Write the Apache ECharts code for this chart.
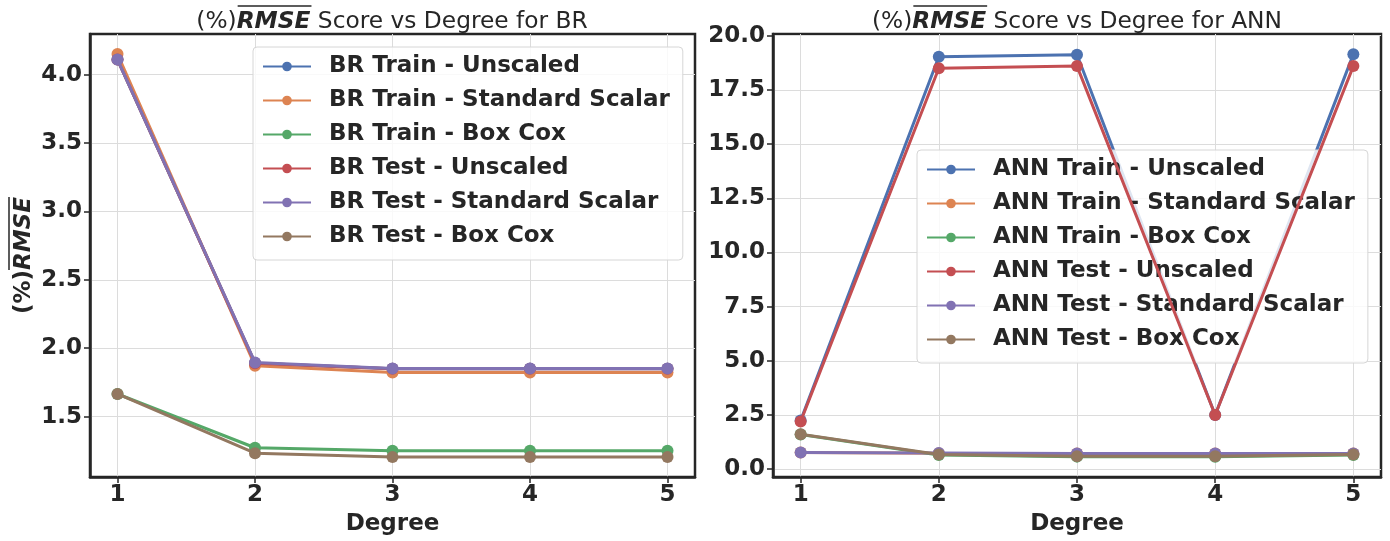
<!DOCTYPE html>
<html>
<head>
<meta charset="utf-8">
<script src="https://cdn.jsdelivr.net/npm/echarts@6/dist/echarts.min.js"></script>
<style>html,body{margin:0;padding:0;background:#fff;}#c{width:1390px;height:541px;}</style>
</head>
<body>
<div id="c"></div>
<script>
const degrees = [1, 2, 3, 4, 5];
const leftYTicks = [1.5, 2.0, 2.5, 3.0, 3.5, 4.0];
const rightYTicks = [0, 2.5, 5, 7.5, 10, 12.5, 15, 17.5, 20];

const brNames = ['BR Train - Unscaled','BR Train - Standard Scalar','BR Train - Box Cox','BR Test - Unscaled','BR Test - Standard Scalar','BR Test - Box Cox'];
const brTrainUnscaled = [4.11, 1.89, 1.85, 1.85, 1.85];
const brTrainStandard = [4.15, 1.872, 1.822, 1.822, 1.822];
const brTrainBoxCox = [1.665, 1.272, 1.25, 1.25, 1.25];
const brTestUnscaled = [4.11, 1.89, 1.85, 1.85, 1.85];
const brTestStandard = [4.11, 1.896, 1.852, 1.852, 1.852];
const brTestBoxCox = [1.665, 1.232, 1.205, 1.205, 1.205];

const annNames = ['ANN Train - Unscaled','ANN Train - Standard Scalar','ANN Train - Box Cox','ANN Test - Unscaled','ANN Test - Standard Scalar','ANN Test - Box Cox'];
const annTrainUnscaled = [2.25, 19.03, 19.12, 2.5, 19.15];
const annTrainStandard = [0.77, 0.74, 0.72, 0.72, 0.72];
const annTrainBoxCox = [1.6, 0.66, 0.58, 0.57, 0.66];
const annTestUnscaled = [2.2, 18.5, 18.6, 2.5, 18.6];
const annTestStandard = [0.77, 0.75, 0.73, 0.73, 0.72];
const annTestBoxCox = [1.61, 0.68, 0.6, 0.6, 0.68];

const titleLeft = ['(%)', 'RMSE', ' Score vs Degree for BR'];
const titleRight = ['(%)', 'RMSE', ' Score vs Degree for ANN'];
const yName = ['(%)', 'RMSE'];
const xName = 'Degree';

const colors = ['#4C72B0','#DD8452','#55A868','#C44E52','#8172B3','#937860'];
const FONT = 'DejaVu Sans';
const DARK = '#262626';
const FS = 23;
const TFS = 23.3;

// text measuring for overline decoration
const mctx = document.createElement('canvas').getContext('2d');
function tw(t, weight, style, fs) {
  mctx.font = (style || 'normal') + ' ' + (weight || 'normal') + ' ' + (fs || FS) + 'px "' + FONT + '"';
  return mctx.measureText(t).width;
}

const chart = echarts.init(document.getElementById('c'), null, {renderer: 'canvas'});

function mkSeries(names, arrays, axisIdx) {
  return names.map((n, i) => ({
    name: n,
    type: 'line',
    xAxisIndex: axisIdx, yAxisIndex: axisIdx,
    data: degrees.map((d, k) => [d, arrays[i][k]]),
    symbol: 'circle', symbolSize: 12,
    lineStyle: {width: 3, color: colors[i]},
    itemStyle: {color: colors[i]},
    z: 2 + i,
    animation: false
  }));
}

const titleRich = {
  n: {fontFamily: FONT, fontSize: TFS, color: DARK, fontWeight: 'normal', lineHeight: 23},
  b: {fontFamily: FONT, fontSize: TFS, color: DARK, fontWeight: 'bold', fontStyle: 'italic', lineHeight: 23}
};

function xAxisCfg(gi) {
  return {
    type: 'value', gridIndex: gi, min: 0.8, max: 5.2,
    name: xName, nameLocation: 'middle', nameGap: 36,
    nameTextStyle: {fontFamily: FONT, fontSize: FS, fontWeight: 'bold', color: DARK},
    axisLine: {show: true, onZero: false, lineStyle: {color: DARK, width: 2.5}},
    axisTick: {show: true, length: 6, lineStyle: {color: DARK, width: 1.5}, customValues: degrees},
    axisLabel: {fontFamily: FONT, fontSize: FS, fontWeight: 'bold', color: DARK, margin: 7, customValues: degrees},
    splitLine: {show: true, lineStyle: {color: '#dcdcdc', width: 1}}
  };
}
function yAxisCfg(gi, mn, mx, ticks, withName) {
  const c = {
    type: 'value', gridIndex: gi, min: mn, max: mx,
    axisLine: {show: true, onZero: false, lineStyle: {color: DARK, width: 2.5}},
    axisTick: {show: true, length: 6, lineStyle: {color: DARK, width: 1.5}, customValues: ticks},
    axisLabel: {fontFamily: FONT, fontSize: FS, fontWeight: 'bold', color: DARK, margin: 8, customValues: ticks, formatter: v => v.toFixed(1)},
    splitLine: {show: true, lineStyle: {color: '#dcdcdc', width: 1}}
  };
  if (withName) {
    c.name = '{a|' + yName[0] + '}{b|' + yName[1] + '}';
    c.nameLocation = 'middle';
    c.nameGap = 54;
    c.nameRotate = 90;
    c.nameTextStyle = {rich: {
      a: {fontFamily: FONT, fontSize: FS, fontWeight: 'bold', color: DARK},
      b: {fontFamily: FONT, fontSize: FS, fontWeight: 'bold', fontStyle: 'italic', color: DARK}
    }};
  }
  return c;
}

function legendCfg(names, left, top) {
  return {
    data: names, orient: 'vertical', left: left, top: top,
    itemWidth: 48, itemHeight: 12, itemGap: 11,
    padding: [8, 13, 12, 9],
    backgroundColor: 'rgba(255,255,255,0.82)',
    borderColor: '#d6d6d6', borderWidth: 1, borderRadius: 4,
    textStyle: {fontFamily: FONT, fontSize: FS, fontWeight: 'bold', color: DARK, lineHeight: 23, padding: [0, 0, 0, 13]},
    selectedMode: false
  };
}

function titleCfg(parts, cx) {
  return {text: '{n|' + parts[0] + '}{b|' + parts[1] + '}{n|' + parts[2] + '}', left: cx, top: 10, textAlign: 'center', textStyle: {rich: titleRich}, padding: 0};
}
function titleOverline(parts, cx) {
  const w0 = tw(parts[0], 'normal', 'normal', TFS), w1 = tw(parts[1], 'bold', 'italic', TFS), w2 = tw(parts[2], 'normal', 'normal', TFS);
  const x0 = cx - (w0 + w1 + w2) / 2 + w0;
  return {type: 'line', shape: {x1: x0 + 1, y1: 6, x2: x0 + w1 + 1, y2: 6}, style: {stroke: DARK, lineWidth: 1.5}, z: 100};
}
function yNameOverline(cy, x) {
  const w0 = tw(yName[0], 'bold'), w1 = tw(yName[1], 'bold', 'italic');
  const yb = cy + (w0 + w1) / 2 - w0;
  return {type: 'line', shape: {x1: x, y1: yb, x2: x, y2: yb - w1}, style: {stroke: DARK, lineWidth: 1.5}, z: 100};
}

const option = {
  backgroundColor: '#ffffff',
  animation: false,
  color: colors,
  title: [titleCfg(titleLeft, 392), titleCfg(titleRight, 1077)],
  grid: [
    {left: 90, top: 34, width: 605, height: 443, show: true, borderColor: DARK, borderWidth: 2.5, backgroundColor: '#fff', outerBoundsMode: 'none', containLabel: false},
    {left: 773, top: 34, width: 608, height: 443, show: true, borderColor: DARK, borderWidth: 2.5, backgroundColor: '#fff', outerBoundsMode: 'none', containLabel: false}
  ],
  xAxis: [xAxisCfg(0), xAxisCfg(1)],
  yAxis: [
    yAxisCfg(0, 1.058, 4.297, leftYTicks, true),
    yAxisCfg(1, -0.36, 20.08, rightYTicks, false)
  ],
  legend: [legendCfg(brNames, 253, 47), legendCfg(annNames, 917, 150)],
  graphic: [titleOverline(titleLeft, 392), titleOverline(titleRight, 1077), yNameOverline(255.5, 9)],
  series: mkSeries(brNames, [brTrainUnscaled, brTrainStandard, brTrainBoxCox, brTestUnscaled, brTestStandard, brTestBoxCox], 0)
    .concat(mkSeries(annNames, [annTrainUnscaled, annTrainStandard, annTrainBoxCox, annTestUnscaled, annTestStandard, annTestBoxCox], 1))
};
chart.setOption(option);
</script>
</body>
</html>
